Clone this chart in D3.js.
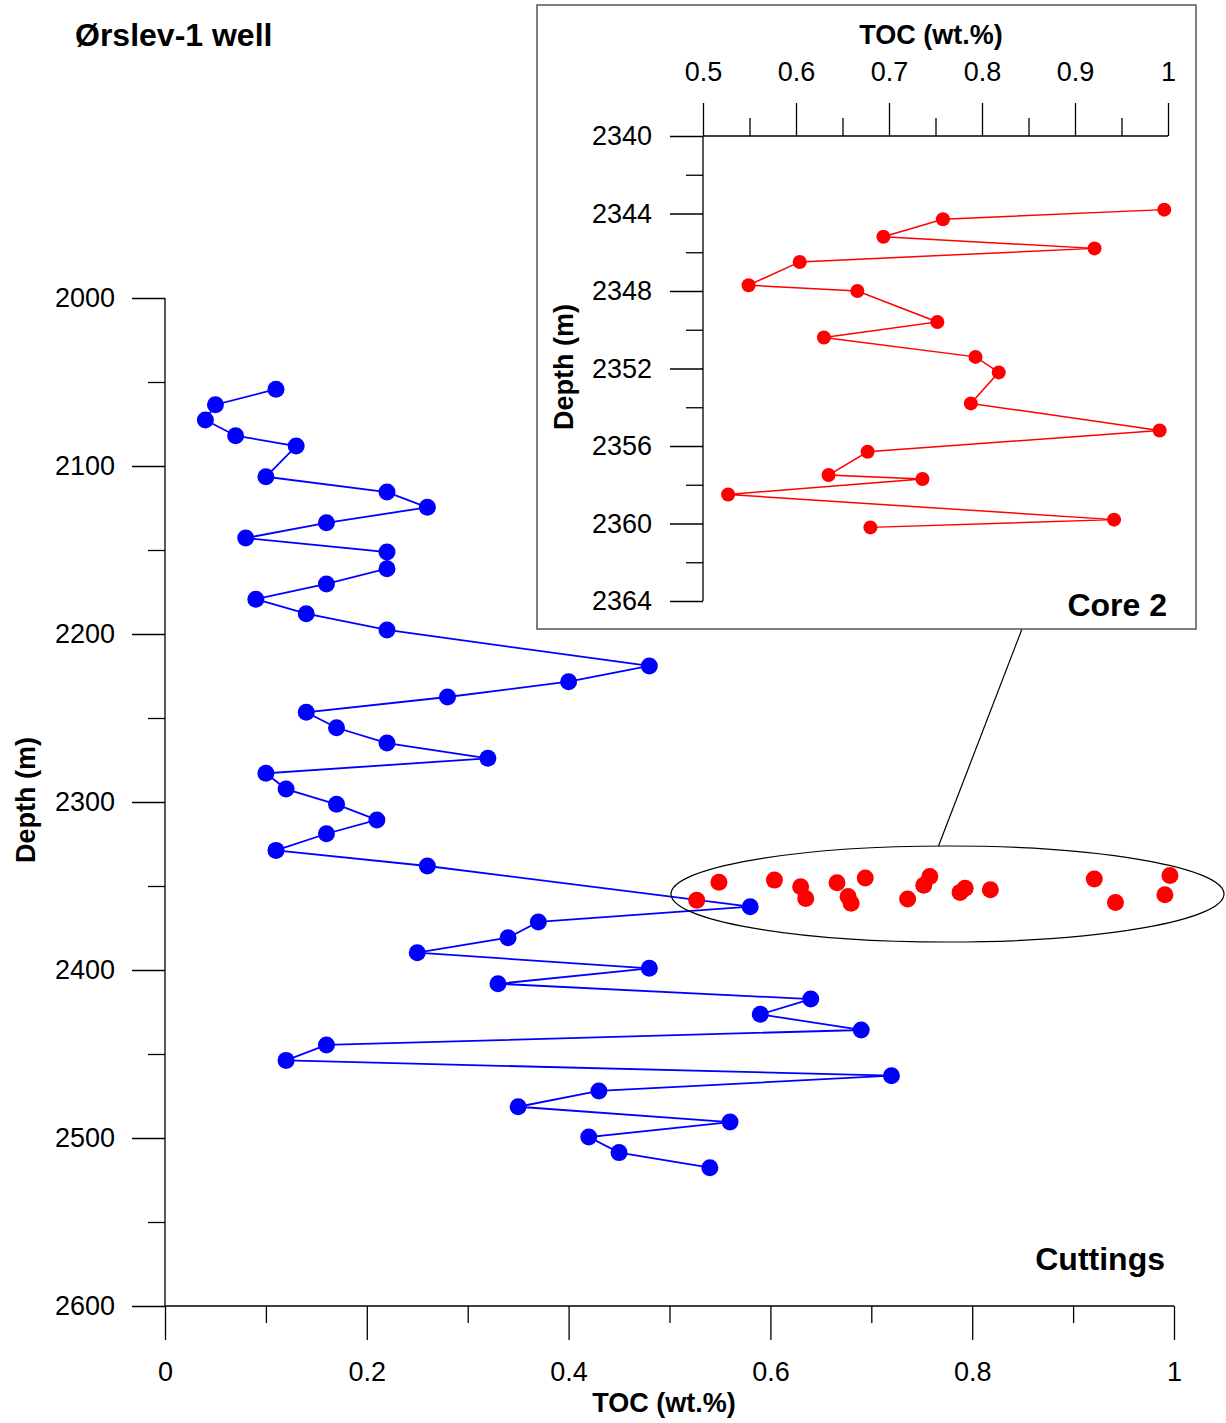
<!DOCTYPE html>
<html>
<head>
<meta charset="utf-8">
<script src="https://cdn.jsdelivr.net/npm/d3@7"></script>
<style>
  html, body { margin: 0; padding: 0; background: #fff; }
  svg { display: block; font-family: "Liberation Sans", Arial, sans-serif; }
</style>
</head>
<body>
<svg id="chart" width="1226" height="1423"></svg>
<script>
// Cuttings samples: depth (m) and TOC (wt.%)
const cuttingsDepth = [2054.3, 2063.5, 2072.6, 2082.0, 2088.1, 2106.4, 2115.5, 2124.6, 2133.8, 2142.9,
  2151.2, 2161.1, 2170.2, 2179.3, 2187.9, 2197.6, 2219.0, 2228.4, 2237.5, 2246.6,
  2255.8, 2264.9, 2274.0, 2282.9, 2292.3, 2301.4, 2310.7, 2318.9, 2328.8, 2338.1,
  2362.3, 2371.4, 2380.8, 2389.7, 2399.0, 2408.2, 2417.3, 2426.4, 2435.7, 2444.6,
  2453.8, 2462.9, 2472.0, 2481.4, 2490.5, 2499.4, 2508.7, 2517.7];
const cuttingsTOC = [0.11, 0.05, 0.04, 0.07, 0.13, 0.10, 0.22, 0.26, 0.16, 0.08,
  0.22, 0.22, 0.16, 0.09, 0.14, 0.22, 0.48, 0.40, 0.28, 0.14,
  0.17, 0.22, 0.32, 0.10, 0.12, 0.17, 0.21, 0.16, 0.11, 0.26,
  0.58, 0.37, 0.34, 0.25, 0.48, 0.33, 0.64, 0.59, 0.69, 0.16,
  0.12, 0.72, 0.43, 0.35, 0.56, 0.42, 0.45, 0.54];

// Core 2 samples: depth (m) and TOC (wt.%)
const coreDepth = [2343.8, 2344.3, 2345.2, 2345.8, 2346.5, 2347.7, 2348.0, 2349.6, 2350.4, 2351.4,
  2352.2, 2353.8, 2355.2, 2356.3, 2357.5, 2357.7, 2358.5, 2359.8, 2360.2];
const coreTOC = [0.996, 0.758, 0.694, 0.921, 0.604, 0.549, 0.666, 0.752, 0.630, 0.793,
  0.818, 0.788, 0.991, 0.677, 0.635, 0.736, 0.527, 0.942, 0.680];

// Axis ticks
const mainDepthTicks = [2000, 2100, 2200, 2300, 2400, 2500, 2600];
const mainDepthMinor = [2050, 2150, 2250, 2350, 2450, 2550];
const mainTocTicks = [0, 0.2, 0.4, 0.6, 0.8, 1];
const mainTocMinor = [0.1, 0.3, 0.5, 0.7, 0.9];
const mainTocLabels = ["0", "0.2", "0.4", "0.6", "0.8", "1"];
const coreDepthTicks = [2340, 2344, 2348, 2352, 2356, 2360, 2364];
const coreDepthMinor = [2342, 2346, 2350, 2354, 2358, 2362];
const coreTocTicks = [0.5, 0.6, 0.7, 0.8, 0.9, 1];
const coreTocMinor = [0.55, 0.65, 0.75, 0.85, 0.95];
const coreTocLabels = ["0.5", "0.6", "0.7", "0.8", "0.9", "1"];

const svg = d3.select("#chart");
const TICK_FONT = 27;
const TITLE_FONT = 27;

function styleAxis(g) {
  g.select(".domain").remove();
  g.selectAll("line").attr("stroke", "#000").attr("stroke-width", 1.3);
  g.selectAll("text").attr("font-size", TICK_FONT).attr("fill", "#000")
    .attr("font-family", "Liberation Sans, Arial, sans-serif");
}

// ---------- Main panel ----------
const x = d3.scaleLinear().domain([0, 1]).range([165, 1174]);
const y = d3.scaleLinear().domain([2000, 2600]).range([298, 1306]);

const mainAxes = svg.append("g");
// minor ticks
mainAxes.append("g").attr("transform", `translate(${x(0)},0)`)
  .call(d3.axisLeft(y).tickValues(mainDepthMinor).tickSize(17).tickSizeOuter(0).tickFormat(""))
  .call(styleAxis);
mainAxes.append("g").attr("transform", `translate(0,${y(2600)})`)
  .call(d3.axisBottom(x).tickValues(mainTocMinor).tickSize(17).tickSizeOuter(0).tickFormat(""))
  .call(styleAxis);
// major ticks with labels
mainAxes.append("g").attr("transform", `translate(${x(0)},0)`)
  .call(d3.axisLeft(y).tickValues(mainDepthTicks).tickSize(33).tickSizeOuter(0).tickPadding(17)
    .tickFormat(d3.format("d")))
  .call(styleAxis);
mainAxes.append("g").attr("transform", `translate(0,${y(2600)})`)
  .call(d3.axisBottom(x).tickValues(mainTocTicks).tickSize(34).tickSizeOuter(0).tickPadding(22)
    .tickFormat((d, i) => mainTocLabels[i]))
  .call(styleAxis);
// axis lines
mainAxes.append("line").attr("x1", x(0)).attr("x2", x(0)).attr("y1", y(2000)).attr("y2", y(2600))
  .attr("stroke", "#000").attr("stroke-width", 1.3);
mainAxes.append("line").attr("x1", x(0)).attr("x2", x(1)).attr("y1", y(2600)).attr("y2", y(2600))
  .attr("stroke", "#000").attr("stroke-width", 1.3);

// axis titles
svg.append("text").attr("x", 664).attr("y", 1412).attr("text-anchor", "middle")
  .attr("font-size", TITLE_FONT).attr("font-weight", "bold").text("TOC (wt.%)");
svg.append("text").attr("transform", "translate(35,800) rotate(-90)").attr("text-anchor", "middle")
  .attr("font-size", TITLE_FONT).attr("font-weight", "bold").text("Depth (m)");

// cuttings series
const cuttings = cuttingsDepth.map((d, i) => ({ depth: d, toc: cuttingsTOC[i] }));
const mainLine = d3.line().x(d => x(d.toc)).y(d => y(d.depth));
svg.append("path").datum(cuttings).attr("d", mainLine)
  .attr("fill", "none").attr("stroke", "#0000ff").attr("stroke-width", 1.8);
svg.append("g").selectAll("circle").data(cuttings).join("circle")
  .attr("cx", d => x(d.toc)).attr("cy", d => y(d.depth)).attr("r", 8.5).attr("fill", "#0000ff");

// core samples on the main scale (no connecting line)
const core = coreDepth.map((d, i) => ({ depth: d, toc: coreTOC[i] }));
svg.append("g").selectAll("circle").data(core).join("circle")
  .attr("cx", d => x(d.toc)).attr("cy", d => y(d.depth)).attr("r", 8.5).attr("fill", "#ff0000");

// ellipse around the cored interval and leader to the inset
svg.append("ellipse").attr("cx", 947.5).attr("cy", 894).attr("rx", 276.5).attr("ry", 48)
  .attr("fill", "none").attr("stroke", "#000").attr("stroke-width", 1.2);
svg.append("line").attr("x1", 938.5).attr("y1", 846).attr("x2", 1022).attr("y2", 629)
  .attr("stroke", "#000").attr("stroke-width", 1.2);

// labels
svg.append("text").attr("x", 75).attr("y", 46).attr("font-size", 32).attr("font-weight", "bold")
  .text("Ørslev-1 well");
svg.append("text").attr("x", 1165).attr("y", 1270).attr("text-anchor", "end")
  .attr("font-size", 32).attr("font-weight", "bold").text("Cuttings");

// ---------- Inset: Core 2 ----------
const inset = svg.append("g");
inset.append("rect").attr("x", 537).attr("y", 5).attr("width", 659).attr("height", 624)
  .attr("fill", "#fff").attr("stroke", "#555").attr("stroke-width", 1.5);

const xi = d3.scaleLinear().domain([0.5, 1]).range([703, 1168]);
const yi = d3.scaleLinear().domain([2340, 2364]).range([136, 601]);

inset.append("g").attr("transform", `translate(${xi(0.5)},0)`)
  .call(d3.axisLeft(yi).tickValues(coreDepthMinor).tickSize(17).tickSizeOuter(0).tickFormat(""))
  .call(styleAxis);
inset.append("g").attr("transform", `translate(0,${yi(2340)})`)
  .call(d3.axisTop(xi).tickValues(coreTocMinor).tickSize(18).tickSizeOuter(0).tickFormat(""))
  .call(styleAxis);
inset.append("g").attr("transform", `translate(${xi(0.5)},0)`)
  .call(d3.axisLeft(yi).tickValues(coreDepthTicks).tickSize(33).tickSizeOuter(0).tickPadding(18)
    .tickFormat(d3.format("d")))
  .call(styleAxis);
inset.append("g").attr("transform", `translate(0,${yi(2340)})`)
  .call(d3.axisTop(xi).tickValues(coreTocTicks).tickSize(33).tickSizeOuter(0).tickPadding(22)
    .tickFormat((d, i) => coreTocLabels[i]))
  .call(styleAxis);
inset.append("line").attr("x1", xi(0.5)).attr("x2", xi(0.5)).attr("y1", yi(2340)).attr("y2", yi(2364))
  .attr("stroke", "#000").attr("stroke-width", 1.3);
inset.append("line").attr("x1", xi(0.5)).attr("x2", xi(1)).attr("y1", yi(2340)).attr("y2", yi(2340))
  .attr("stroke", "#000").attr("stroke-width", 1.3);

inset.append("text").attr("x", 931).attr("y", 44).attr("text-anchor", "middle")
  .attr("font-size", TITLE_FONT).attr("font-weight", "bold").text("TOC (wt.%)");
inset.append("text").attr("transform", "translate(573,367) rotate(-90)").attr("text-anchor", "middle")
  .attr("font-size", TITLE_FONT).attr("font-weight", "bold").text("Depth (m)");

const insetLine = d3.line().x(d => xi(d.toc)).y(d => yi(d.depth));
inset.append("path").datum(core).attr("d", insetLine)
  .attr("fill", "none").attr("stroke", "#ff0000").attr("stroke-width", 1.5);
inset.append("g").selectAll("circle").data(core).join("circle")
  .attr("cx", d => xi(d.toc)).attr("cy", d => yi(d.depth)).attr("r", 7).attr("fill", "#ff0000");

inset.append("text").attr("x", 1167).attr("y", 616).attr("text-anchor", "end")
  .attr("font-size", 32).attr("font-weight", "bold").text("Core 2");
</script>
</body>
</html>
